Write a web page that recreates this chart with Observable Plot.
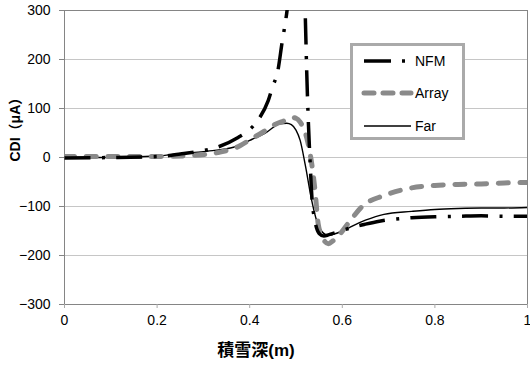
<!DOCTYPE html>
<html><head><meta charset="utf-8">
<script src="https://cdn.jsdelivr.net/npm/d3@7"></script>
<script src="https://cdn.jsdelivr.net/npm/@observablehq/plot@0.6"></script>
<style>
body{margin:0;background:#fff;}
#wrap{position:relative;width:530px;height:372px;font-family:"Liberation Sans",Arial,"Noto Sans CJK JP",sans-serif;}
#legend{position:absolute;left:350px;top:43px;}
</style></head><body><div id="wrap"></div>
<script>
// ---- data ----
const seriesNames = ["NFM", "Array", "Far"];
const xNFM = [0, 0.1, 0.2, 0.25, 0.3, 0.33, 0.375, 0.4, 0.42, 0.44, 0.45, 0.46, 0.47, 0.48, 0.49, 0.5, 0.51, 0.515, 0.52, 0.523, 0.526, 0.53, 0.535, 0.54, 0.55, 0.56, 0.57, 0.58, 0.6, 0.62, 0.65, 0.68, 0.71, 0.75, 0.8, 0.85, 0.9, 0.95, 1];
const yNFM = [-1, 0, 2, 7, 14, 21, 41, 57, 79, 116, 146, 173, 235, 295, 380, 440, 420, 380, 290, 180, 90, 0, -90, -125, -155, -160, -158, -155, -149, -143, -136, -130, -126, -123, -121, -120, -119, -120, -120];
const xArray = [0, 0.1, 0.2, 0.27, 0.336, 0.379, 0.4, 0.422, 0.458, 0.475, 0.49, 0.5, 0.509, 0.523, 0.534, 0.541, 0.548, 0.558, 0.57, 0.58, 0.595, 0.617, 0.645, 0.689, 0.739, 0.8, 0.85, 0.9, 0.95, 1];
const yArray = [2, 2, 2, 4, 11, 24, 36, 48, 69, 75, 82, 80, 72, 41, -13, -67, -136, -165, -176, -170, -156, -129, -98, -78, -64, -57, -55, -54, -52, -51];
const xFar = [0, 0.1, 0.2, 0.25, 0.3, 0.32, 0.365, 0.4, 0.437, 0.465, 0.48, 0.49, 0.5, 0.509, 0.52, 0.534, 0.545, 0.555, 0.57, 0.58, 0.6, 0.617, 0.65, 0.69, 0.75, 0.8, 0.85, 0.9, 0.95, 1];
const yFar = [0, 0, 3, 8, 12, 14, 21, 35, 52, 69, 70, 67, 56, 35, -15, -88, -130, -150, -159, -157, -150, -142, -128, -116, -110, -106, -104, -103, -103, -102];
const xTicks = [0, 0.2, 0.4, 0.6, 0.8, 1];
const yTicks = [-300, -200, -100, 0, 100, 200, 300];
const xTitle = "積雪深(m)";
const yTitle = "CDI（μA）";

// ---- styles ----
const styles = {
  NFM:   {stroke: "#000", strokeWidth: 3.5, strokeDasharray: "26,11.5,3,11.2", strokeLinecap: "butt"},
  Array: {stroke: "#8a8a8a", strokeWidth: 5, strokeDasharray: "10,11.7", strokeLinecap: "round"},
  Far:   {stroke: "#000", strokeWidth: 1.4}
};
const rows = (xs, ys) => xs.map((x, i) => ({x, y: ys[i]}));
const dataBy = {NFM: rows(xNFM, yNFM), Array: rows(xArray, yArray), Far: rows(xFar, yFar)};

const font = "'Liberation Sans', Arial, 'Noto Sans CJK JP', sans-serif";
const chart = Plot.plot({
  width: 530, height: 372,
  marginLeft: 64, marginRight: 3, marginTop: 10, marginBottom: 68,
  x: {domain: [0, 1]},
  y: {domain: [-300, 300]},
  style: {fontFamily: font, fontSize: "14px", color: "#000", background: "#fff"},
  marks: [
    Plot.gridY(yTicks.slice(1, -1), {stroke: "#c6c6c6", strokeOpacity: 1}),
    Plot.frame({stroke: "#858585"}),
    Plot.axisY(yTicks, {tickSize: 5, tickPadding: 9, stroke: "#858585", fill: "#000", fontSize: 14, label: null,
      tickFormat: d => d < 0 ? "\u2212" + Math.abs(d) : String(d)}),
    Plot.axisX(xTicks, {tickSize: 4, tickPadding: 7, stroke: "#aaa", fill: "#000", fontSize: 14, label: null,
      tickFormat: d => String(d)}),
    ...["Far", "Array", "NFM"].map(n => Plot.line(dataBy[n], {x: "x", y: "y", curve: "monotone-x", clip: true, ...styles[n]})),
    Plot.text([yTitle], {frameAnchor: "left", dx: -49, dy: 4, rotate: -90, fontWeight: "bold", fontSize: 14, fill: "#000"}),
    Plot.text([xTitle], {frameAnchor: "bottom", dx: -40, dy: 51, fontWeight: "bold", fontSize: 17, fill: "#000"})
  ]
});
const wrap = document.getElementById("wrap");
wrap.appendChild(chart);

// ---- legend ----
const lg = d3.select(wrap).append("svg").attr("id", "legend").attr("width", 116).attr("height", 98)
  .style("font-family", font).style("font-size", "14px");
lg.append("rect").attr("x", 1.5).attr("y", 1.5).attr("width", 112).attr("height", 94)
  .attr("fill", "#fff").attr("stroke", "#aaa").attr("stroke-width", 3);
const rowY = [18, 50, 83];
seriesNames.forEach((n, i) => {
  const s = styles[n];
  lg.append("line").attr("x1", 14).attr("x2", 61).attr("y1", rowY[i]).attr("y2", rowY[i])
    .attr("stroke", s.stroke).attr("stroke-width", s.strokeWidth)
    .attr("stroke-dasharray", n === "NFM" ? "27,11,3,20" : n === "Array" ? "10,9" : null)
    .attr("stroke-linecap", s.strokeLinecap || "butt");
  lg.append("text").attr("x", 65).attr("y", rowY[i]).attr("dy", "0.36em").attr("fill", "#000").text(n);
});
</script>
</body></html>
